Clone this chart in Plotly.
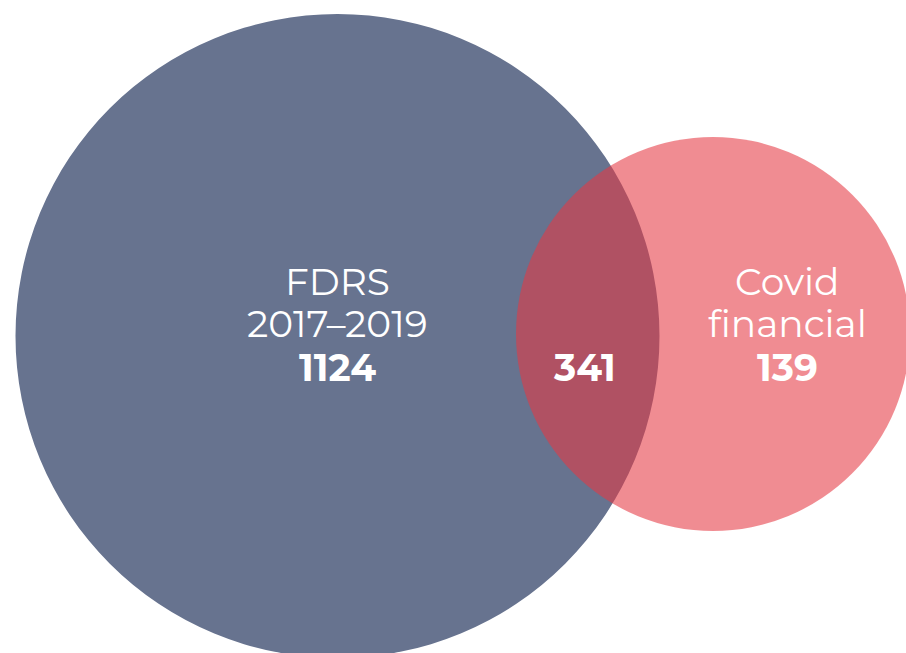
import plotly.graph_objects as go

set_names = [["FDRS", "2017–2019"], [], ["Covid", "financial"]]
region_values = [1124, 341, 139]

W, H = 906, 653
fig = go.Figure()

left_c = dict(cx=337.5, cy=336, r=322)
right_c = dict(cx=713, cy=334, r=197)

fig.add_shape(type="circle", xref="x", yref="y",
              x0=left_c["cx"] - left_c["r"], x1=left_c["cx"] + left_c["r"],
              y0=left_c["cy"] - left_c["r"], y1=left_c["cy"] + left_c["r"],
              fillcolor="#67738F", line=dict(width=0), layer="below")
fig.add_shape(type="circle", xref="x", yref="y",
              x0=right_c["cx"] - right_c["r"], x1=right_c["cx"] + right_c["r"],
              y0=right_c["cy"] - right_c["r"], y1=right_c["cy"] + right_c["r"],
              fillcolor="rgb(229,56,67)", opacity=0.58, line=dict(width=0), layer="below")

label_x = [337, 584, 787]
line_y = [281, 323]
value_y = 367
font = "Montserrat, Lato, Open Sans, sans-serif"
for i, (lines, val) in enumerate(zip(set_names, region_values)):
    for j, ln in enumerate(lines):
        fig.add_annotation(x=label_x[i], y=line_y[j], xref="x", yref="y",
                           text=ln, showarrow=False, yanchor="middle",
                           font=dict(family=font, size=37.5, color="white"))
    fig.add_annotation(x=label_x[i], y=value_y, xref="x", yref="y",
                       text=f"<b>{val}</b>", showarrow=False, yanchor="middle",
                       font=dict(family=font, size=37.5, color="white"))

fig.update_xaxes(range=[0, W], visible=False, fixedrange=True)
fig.update_yaxes(range=[H, 0], visible=False, fixedrange=True)
fig.update_layout(width=W, height=H, margin=dict(l=0, r=0, t=0, b=0),
                  plot_bgcolor="white", paper_bgcolor="white", showlegend=False,
                  hovermode=False)

fig.write_html("out.html", config={"displayModeBar": False, "staticPlot": True},
               post_script="document.body.style.margin='0';document.body.style.overflow='hidden';")
